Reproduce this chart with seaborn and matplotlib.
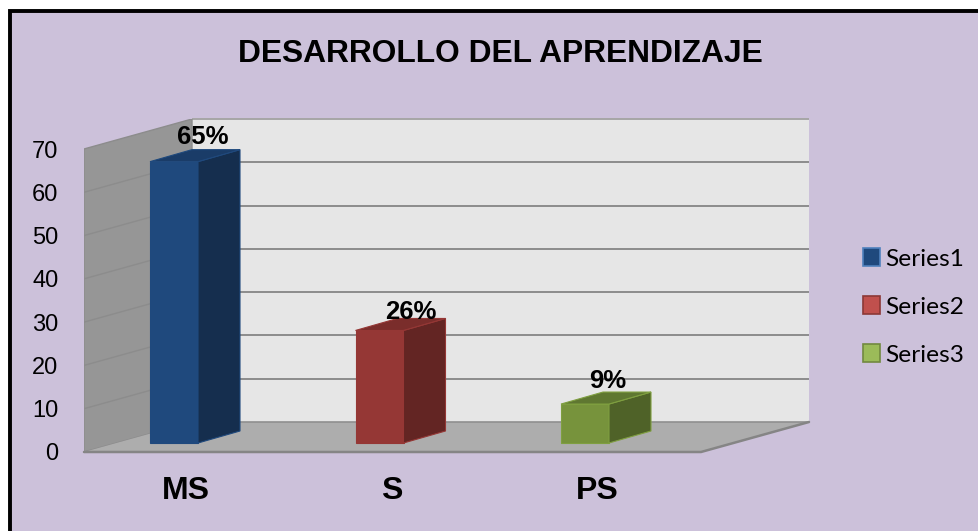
import matplotlib
matplotlib.use("Agg")
import matplotlib.pyplot as plt
from matplotlib.patches import Polygon, Rectangle
import pandas as pd
import seaborn as sns

categories = ["MS", "S", "PS"]
series_names = ["Series1", "Series2", "Series3"]
values = [65, 26, 9]
value_labels = ["65%", "26%", "9%"]
y_ticks = [0, 10, 20, 30, 40, 50, 60, 70]
title = "DESARROLLO DEL APRENDIZAJE"

W, H = 979, 531
BG = "#CCC1DA"
front = ["#1F497D", "#953735", "#77933C"]
side = ["#152E4E", "#632523", "#4F6228"]
top = ["#1A3C68", "#7A2D2B", "#5F7731"]
edge = ["#1F497D", "#953735", "#7F9F40"]
leg_face = ["#1F497D", "#C0504D", "#9BBB59"]
leg_edge = ["#4F81BD", "#8C3836", "#71893F"]
# pixel nudges of the value labels relative to the bar centre and box top
label_nudge_x = [29, 31, 23]
label_nudge_y = [6, -1, 4]

sns.set_theme(style="white")
fig = plt.figure(figsize=(W / 100, H / 100), dpi=100, facecolor="white")
# outer frame: open at right and bottom
fig.add_artist(Rectangle((10 / W, -0.05), (W + 20) / W, 1.05 - 11.5 / H,
                         transform=fig.transFigure, facecolor=BG,
                         edgecolor="black", linewidth=2.8, zorder=-5))

# axes rectangle in pixels: spans the front plane plus the depth of the box
L, R, B, T = 84, 809, 452, 119
ax = fig.add_axes([L / W, 1 - B / H, (R - L) / W, (B - T) / H])
ax.patch.set_alpha(0)
for s in ax.spines.values():
    s.set_visible(False)

PX_PER_UNIT = 303 / 70
PX_PER_CAT = 205.5
CAT0 = 174
ax.set_ylim(0, (B - T) / PX_PER_UNIT)
ax.set_xlim((L - CAT0) / PX_PER_CAT, (R - CAT0) / PX_PER_CAT)

def dx(px):
    return px / PX_PER_CAT
def dy(px):
    return px / PX_PER_UNIT

x_left = ax.get_xlim()[0]
x_right = ax.get_xlim()[1]
ymax = max(y_ticks)
DX, DY = dx(108), dy(30)
x_front_r = x_right - DX
y_top = ax.get_ylim()[1]

# back wall, side wall, floor
ax.add_patch(Rectangle((x_left + DX, DY), x_right - x_left - DX, y_top - DY,
                       facecolor="#E6E6E6", edgecolor="none", zorder=0))
for t in y_ticks[1:]:
    ax.plot([x_left + DX, x_right], [t + DY, t + DY], color="#8C8C8C" if t < ymax else "#A6A6A6",
            lw=1.4, zorder=1, solid_capstyle="butt", clip_on=False)
ax.add_patch(Polygon([(x_left, 0), (x_left + DX, DY), (x_left + DX, ymax + DY), (x_left, ymax)],
                     closed=True, facecolor="#969696", edgecolor="#8C8C8C", lw=1, zorder=2))
for t in y_ticks[1:-1]:
    ax.plot([x_left, x_left + DX], [t, t + DY], color="#8C8C8C", lw=1.0, zorder=3)
ax.add_patch(Polygon([(x_left, 0), (x_front_r, 0), (x_right, DY), (x_left + DX, DY)],
                     closed=True, facecolor="#ADADAD", edgecolor="none", zorder=3))
ax.plot([x_left + DX, x_right], [DY, DY], color="#8F8F8F", lw=1.2, zorder=3.1)
ax.plot([x_left, x_front_r, x_right], [0, 0, DY], color="#858585", lw=1.8, zorder=3.1,
        solid_joinstyle="miter", clip_on=False)

# bars
df = pd.DataFrame({"cat": categories, "val": values, "series": series_names})
sns.barplot(data=df, x="cat", y="val", hue="series", hue_order=series_names,
            palette=front, dodge=False, width=48 / PX_PER_CAT, legend=False, saturation=1,
            ax=ax, zorder=5)
ax.set_xlim((L - CAT0) / PX_PER_CAT, (R - CAT0) / PX_PER_CAT)
ax.set_ylim(0, (B - T) / PX_PER_UNIT)

base = dy(9)
bdx, bdy = dx(42), dy(12)
bars = [p for p in ax.patches if isinstance(p, Rectangle) and p.get_zorder() == 5 and p.get_height() > 0]
for p, v, lab, c_side, c_top, c_edge, nx, ny in zip(bars, values, value_labels, side, top, edge,
                                                    label_nudge_x, label_nudge_y):
    p.set_y(base)
    p.set_edgecolor(c_edge)
    p.set_linewidth(0.8)
    x0, x1 = p.get_x(), p.get_x() + p.get_width()
    y0, y1 = base, base + v
    ax.add_patch(Polygon([(x1, y0), (x1 + bdx, y0 + bdy), (x1 + bdx, y1 + bdy), (x1, y1)],
                         closed=True, facecolor=c_side, edgecolor=c_edge, lw=0.8, zorder=5))
    ax.add_patch(Polygon([(x0, y1), (x1, y1), (x1 + bdx, y1 + bdy), (x0 + bdx, y1 + bdy)],
                         closed=True, facecolor=c_top, edgecolor=c_edge, lw=0.8, zorder=5))
    ax.text((x0 + x1) / 2 + dx(nx), y1 + bdy + dy(ny), lab, ha="center", va="baseline",
            family="Liberation Sans", fontweight="bold", fontsize=18.5, color="black", zorder=6)

# axes labels
ax.set_xlabel("")
ax.set_ylabel("")
ax.set_xticks([i + dx(12) for i in range(len(categories))], categories, family="Liberation Sans",
              fontweight="bold", fontsize=23, color="black")
ax.set_yticks(y_ticks, [str(t) for t in y_ticks], family="Liberation Sans",
              fontsize=17, color="black")
ax.tick_params(axis="x", length=0, pad=17)
ax.tick_params(axis="y", length=0, pad=18.5)

# title
fig.text(500 / W, 1 - 54.5 / H, title, ha="center", va="center", family="Liberation Sans",
         fontweight="bold", fontsize=22.9, color="black")

# legend
handles = [Rectangle((0, 0), 1, 1, facecolor=f, edgecolor=e, lw=1.2)
           for f, e in zip(leg_face, leg_edge)]
leg = fig.legend(handles, series_names, loc="center left", bbox_to_anchor=(863 / W, 1 - 307 / H),
                 frameon=False, prop={"family": "Lato", "size": 17.6}, labelcolor="black",
                 handlelength=0.7, handleheight=0.7, handletextpad=0.2, labelspacing=1.1,
                 borderpad=0, borderaxespad=0)
fig.savefig("out.png", dpi=100, facecolor="white")
